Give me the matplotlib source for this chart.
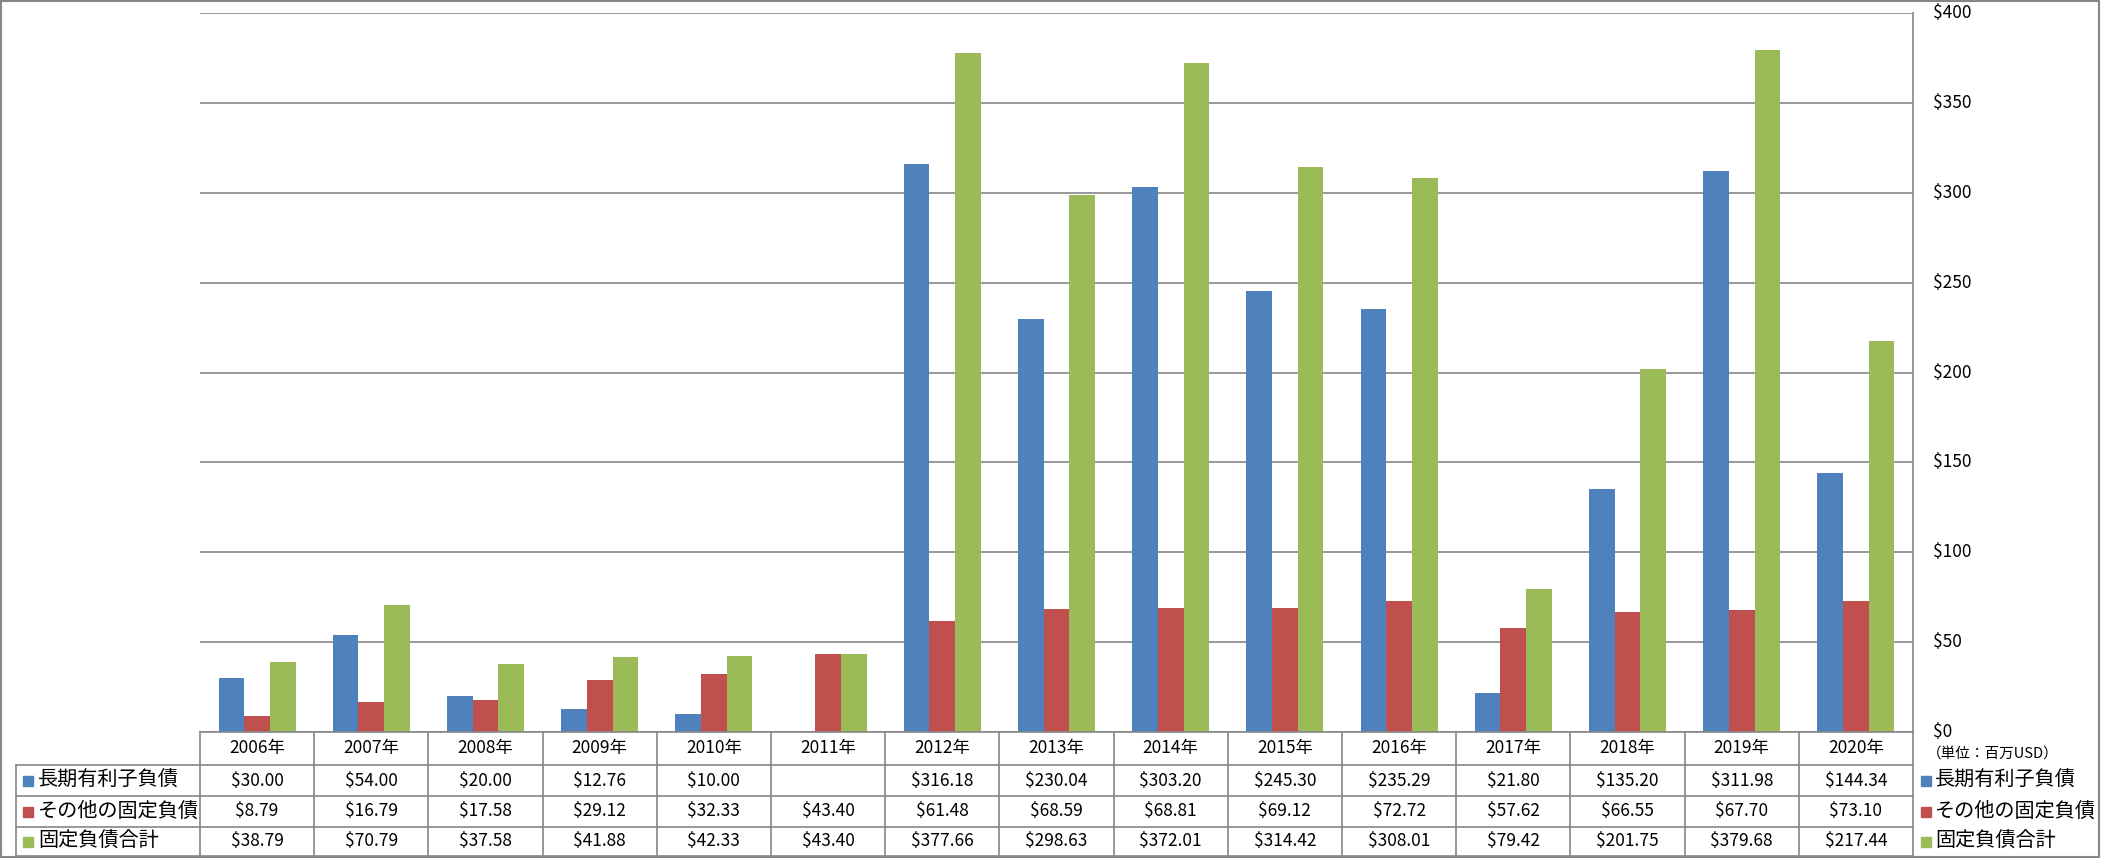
import numpy as np
import matplotlib
matplotlib.use("Agg")
from matplotlib import pyplot as plt
from matplotlib.patches import Rectangle

plt.rcParams["font.family"] = ["Noto Sans CJK JP", "DejaVu Sans"]

# data
years = ["2006年", "2007年", "2008年", "2009年", "2010年", "2011年", "2012年", "2013年",
         "2014年", "2015年", "2016年", "2017年", "2018年", "2019年", "2020年"]
series_names = ["長期有利子負債", "その他の固定負債", "固定負債合計"]
long_debt = [30.00, 54.00, 20.00, 12.76, 10.00, np.nan, 316.18, 230.04,
             303.20, 245.30, 235.29, 21.80, 135.20, 311.98, 144.34]
other_fixed = [8.79, 16.79, 17.58, 29.12, 32.33, 43.40, 61.48, 68.59,
               68.81, 69.12, 72.72, 57.62, 66.55, 67.70, 73.10]
total_fixed = [38.79, 70.79, 37.58, 41.88, 42.33, 43.40, 377.66, 298.63,
               372.01, 314.42, 308.01, 79.42, 201.75, 379.68, 217.44]
yticks = [0, 50, 100, 150, 200, 250, 300, 350, 400]
unit_label = "（単位：百万USD）"

colors = ["#4F81BD", "#C0504D", "#9BBB59"]
grid_c = "#868686"

W, H = 2101, 858
fig = plt.figure(figsize=(W / 100, H / 100), dpi=100)

# plot area in pixels
left, right, top, zero = 200, 1913, 13, 732
ax = fig.add_axes([left / W, (H - zero) / H, (right - left) / W, (zero - top) / H])

n = len(years)
x = np.arange(n)
bw = 0.225
all_series = [long_debt, other_fixed, total_fixed]
for k, vals in enumerate(all_series):
    ax.bar(x + (k - 1) * bw, np.array(vals, dtype=float), width=bw, color=colors[k], zorder=3)

ax.set_xlim(-0.5, n - 0.5)
ax.set_ylim(0, 400)
ax.set_yticks(yticks)
ax.set_yticklabels([])
ax.set_xticks([])
ax.yaxis.grid(True, color=grid_c, linewidth=1.2, zorder=0)
for s in ["left", "top", "bottom"]:
    ax.spines[s].set_visible(False)
ax.spines["right"].set_color(grid_c)
ax.spines["right"].set_linewidth(1.2)
ax.tick_params(axis="y", length=0)

# overlay in pixel coords for table, tick labels, legend, border
ov = fig.add_axes([0, 0, 1, 1])
ov.set_xlim(0, W)
ov.set_ylim(H, 0)
ov.axis("off")
ov.patch.set_alpha(0)

def ypix(v):
    return zero - v * (zero - top) / 400.0

for t in yticks:
    ov.text(1933, ypix(t), "$%d" % t, fontsize=12.5, ha="left", va="center")
ov.text(1927, 754, unit_label, fontsize=10.5, ha="left", va="center")

# table
colw = (right - left) / n
row_y = [732, 765, 796, 827, 856]
lw = 1.2
ov.plot([left, right], [row_y[0], row_y[0]], color=grid_c, lw=lw)
for yy in row_y[1:]:
    ov.plot([16, right], [yy, yy], color=grid_c, lw=lw)
ov.plot([16, 16], [row_y[1], row_y[-1]], color=grid_c, lw=lw)
for i in range(n + 1):
    xx = left + i * colw
    ov.plot([xx, xx], [row_y[0], row_y[-1]], color=grid_c, lw=lw)

for i, yr in enumerate(years):
    cx = left + (i + 0.5) * colw
    ov.text(cx, (row_y[0] + row_y[1]) / 2, yr, fontsize=12.5, ha="center", va="center")
    for k, vals in enumerate(all_series):
        v = vals[i]
        if not np.isnan(v):
            cy = (row_y[k + 1] + row_y[k + 2]) / 2
            ov.text(cx, cy, "$%.2f" % v, fontsize=12.5, ha="center", va="center")

# row labels + legend
for k, name in enumerate(series_names):
    cy = (row_y[k + 1] + row_y[k + 2]) / 2
    ov.add_patch(Rectangle((23, cy - 5), 10, 10, color=colors[k]))
    ov.text(38, cy, name, fontsize=14.5, ha="left", va="center")
    ov.add_patch(Rectangle((1921, cy - 5), 10, 10, color=colors[k]))
    ov.text(1935, cy, name, fontsize=14.5, ha="left", va="center")

# outer border
ov.add_patch(Rectangle((1, 1), W - 3, H - 2.5, fill=False, edgecolor=grid_c, lw=1.5))

plt.savefig("out.png", dpi=100)
